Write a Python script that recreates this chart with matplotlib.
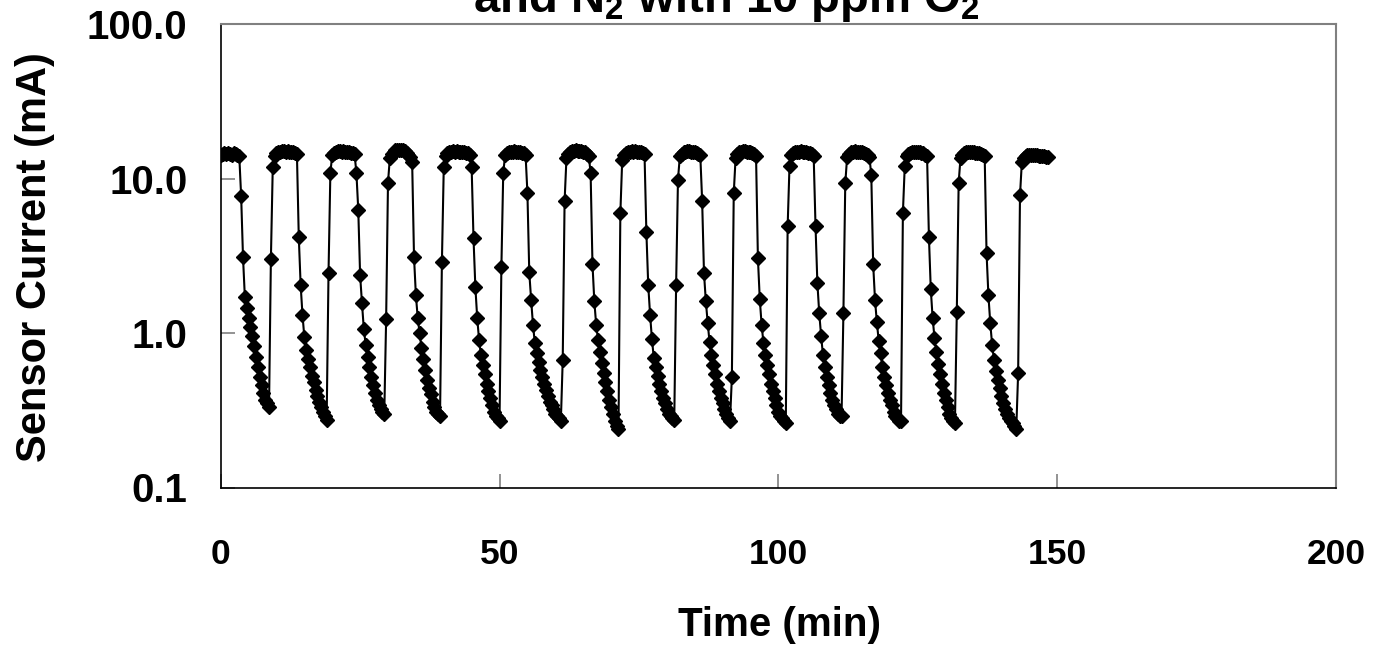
import numpy as np
import matplotlib
matplotlib.use("Agg")
from matplotlib import pyplot as plt
from matplotlib.ticker import FixedLocator, FormatStrFormatter

plt.rcParams['font.family'] = ['Liberation Sans', 'DejaVu Sans']
plt.rcParams['font.weight'] = 'bold'
plt.rcParams['mathtext.default'] = 'regular'

# sensor current (mA), one reading every 20 s (1/3 min)
# hi = O2 plateau + rise points, lo = decay in N2 (10 ppm O2)
hi0 = [14.2, 14.5, 14.6, 14.4, 14.7, 14.5, 14.3, 14.6, 14.4, 14.2, 13.9]
lo1 = [7.7, 3.1, 1.7, 1.45, 1.25, 1.1, 0.95, 0.82, 0.7, 0.6, 0.52, 0.46, 0.41, 0.37, 0.35, 0.33]
hi1 = [3.0, 11.8, 14.0, 14.6, 14.8, 14.9, 15.0, 15.0, 14.9, 15.0, 14.9, 14.8, 14.9, 14.7, 14.5]
lo2 = [4.2, 2.05, 1.31, 0.94, 0.78, 0.68, 0.6, 0.53, 0.48, 0.43, 0.39, 0.36, 0.33, 0.31, 0.29, 0.275]
hi2 = [2.44, 10.9, 14.2, 14.7, 14.9, 15.0, 15.0, 14.9, 15.0, 14.9, 14.8, 14.9, 14.7, 14.6, 14.4]
lo3 = [10.9, 6.3, 2.37, 1.56, 1.06, 0.84, 0.7, 0.6, 0.52, 0.46, 0.41, 0.37, 0.34, 0.32, 0.31, 0.30]
hi3 = [1.23, 9.4, 13.6, 14.5, 14.9, 15.2, 15.3, 15.4, 15.3, 15.2, 15.0, 14.7, 14.3, 13.8]
lo4 = [12.7, 3.1, 1.76, 1.25, 1.0, 0.8, 0.68, 0.58, 0.5, 0.44, 0.4, 0.36, 0.33, 0.31, 0.3, 0.29]
hi4 = [2.87, 11.8, 14.0, 14.6, 14.8, 14.9, 15.0, 14.9, 15.0, 14.9, 14.9, 14.8, 14.9, 14.7, 14.6, 14.3]
lo5 = [11.8, 4.1, 1.98, 1.25, 0.9, 0.72, 0.62, 0.54, 0.47, 0.42, 0.38, 0.34, 0.31, 0.29, 0.28, 0.27]
hi5 = [2.67, 10.9, 14.1, 14.6, 14.8, 14.9, 14.9, 15.0, 14.9, 14.8, 14.9, 14.7, 14.6, 14.3]
lo6 = [8.1, 2.47, 1.64, 1.13, 0.86, 0.74, 0.65, 0.58, 0.52, 0.47, 0.43, 0.39, 0.36, 0.34, 0.32, 0.3, 0.29, 0.28, 0.27]
hi6 = [0.67, 7.1, 13.5, 14.4, 14.8, 15.0, 15.1, 15.2, 15.1, 15.0, 15.1, 14.9, 14.8, 14.5, 14.0]
lo7 = [10.9, 2.8, 1.6, 1.13, 0.9, 0.75, 0.64, 0.55, 0.48, 0.42, 0.37, 0.33, 0.3, 0.27, 0.25, 0.24]
hi7 = [5.95, 13.2, 14.3, 14.7, 14.8, 14.9, 15.0, 14.9, 15.0, 14.9, 14.8, 14.8, 14.6, 14.4]
lo8 = [4.5, 2.04, 1.31, 0.91, 0.69, 0.6, 0.53, 0.47, 0.42, 0.38, 0.35, 0.32, 0.3, 0.29, 0.28, 0.275]
hi8 = [2.04, 9.85, 13.9, 14.5, 14.8, 14.9, 15.0, 15.0, 14.9, 14.9, 14.8, 14.7, 14.5, 14.2]
lo9 = [7.2, 2.44, 1.6, 1.16, 0.87, 0.72, 0.62, 0.54, 0.47, 0.42, 0.38, 0.35, 0.32, 0.3, 0.28, 0.27]
hi9 = [0.52, 8.0, 13.6, 14.5, 14.8, 14.9, 15.0, 15.0, 14.9, 14.9, 14.8, 14.7, 14.4, 14.0]
lo10 = [3.05, 1.66, 1.13, 0.86, 0.72, 0.62, 0.54, 0.47, 0.42, 0.38, 0.34, 0.31, 0.29, 0.28, 0.27, 0.26]
hi10 = [4.9, 12.1, 14.3, 14.7, 14.8, 14.9, 14.9, 15.0, 14.9, 14.8, 14.8, 14.7, 14.6, 14.4, 14.0]
lo11 = [4.9, 2.1, 1.34, 0.96, 0.72, 0.6, 0.52, 0.46, 0.41, 0.37, 0.34, 0.32, 0.3, 0.29, 0.29]
hi11 = [1.34, 9.3, 13.8, 14.5, 14.8, 14.9, 15.0, 14.9, 14.9, 14.8, 14.8, 14.6, 14.4, 14.1, 13.8]
lo12 = [10.5, 2.8, 1.64, 1.17, 0.89, 0.74, 0.6, 0.52, 0.46, 0.41, 0.37, 0.34, 0.31, 0.29, 0.28, 0.27, 0.27]
hi12 = [6.0, 12.0, 14.0, 14.5, 14.7, 14.8, 14.9, 14.9, 14.8, 14.8, 14.7, 14.6, 14.3, 14.0]
lo13 = [4.2, 1.92, 1.25, 0.93, 0.75, 0.63, 0.54, 0.47, 0.41, 0.37, 0.33, 0.3, 0.28, 0.27, 0.26]
hi13 = [1.37, 9.4, 13.6, 14.3, 14.6, 14.8, 14.9, 14.9, 14.8, 14.8, 14.7, 14.7, 14.6, 14.4, 14.2, 13.9]
lo14 = [3.3, 1.76, 1.16, 0.84, 0.67, 0.57, 0.5, 0.44, 0.39, 0.35, 0.32, 0.3, 0.28, 0.27, 0.26, 0.25, 0.24]
hi14 = [0.55, 7.8, 12.8, 13.6, 14.0, 14.2, 14.3, 14.3, 14.2, 14.2, 14.1, 14.0, 14.0, 13.9, 13.9, 13.8, 13.8]

dt = 1.0 / 3.0  # min between readings

segments = [hi0, lo1, hi1, lo2, hi2, lo3, hi3, lo4, hi4, lo5, hi5, lo6, hi6, lo7, hi7,
            lo8, hi8, lo9, hi9, lo10, hi10, lo11, hi11, lo12, hi12, lo13, hi13, lo14, hi14]
current = np.concatenate([np.array(s, dtype=float) for s in segments])
time = np.arange(len(current)) * dt

xticks = [0, 50, 100, 150, 200]
yticks = [0.1, 1.0, 10.0, 100.0]

W, H = 1378, 655
fig = plt.figure(figsize=(W / 100, H / 100), dpi=100)
ax = fig.add_axes([220.7 / W, 1 - 487.5 / H, (1336 - 220.7) / W, (487.5 - 24) / H])

ax.plot(time, current, color='black', lw=1.5, marker='D', ms=7.5,
        mfc='black', mec='black', zorder=3)

ax.set_yscale('log')
ax.set_xlim(0, 200)
ax.set_ylim(0.1, 100)
ax.xaxis.set_major_locator(FixedLocator(xticks))
ax.yaxis.set_major_locator(FixedLocator(yticks))
ax.yaxis.set_minor_locator(FixedLocator([]))
ax.yaxis.set_major_formatter(FormatStrFormatter('%.1f'))
ax.xaxis.set_major_formatter(FormatStrFormatter('%d'))

ax.tick_params(axis='both', which='major', direction='in', length=10, width=1.2,
               color='#808080')
ax.tick_params(axis='y', pad=24, labelsize=29)
ax.tick_params(axis='x', pad=36, labelsize=25.5)
for lab in ax.get_xticklabels() + ax.get_yticklabels():
    lab.set_fontweight('bold')

for side in ['left', 'bottom']:
    ax.spines[side].set_color('black')
    ax.spines[side].set_linewidth(1.2)
for side in ['top', 'right']:
    ax.spines[side].set_color('#808080')
    ax.spines[side].set_linewidth(1.5)

fig.text(726 / W, 1 - 12 / H, r'and N$_\mathregular{2}$ with 10 ppm O$_\mathregular{2}$',
         ha='center', va='baseline', fontsize=34, fontweight='bold')
fig.text(35 / W, 1 - 257 / H, 'Sensor Current (mA)', rotation=90,
         ha='center', va='center', fontsize=30, fontweight='bold')
fig.text(779 / W, 1 - 625 / H, 'Time (min)', ha='center', va='center',
         fontsize=29, fontweight='bold')

fig.savefig('out.png', dpi=100)
